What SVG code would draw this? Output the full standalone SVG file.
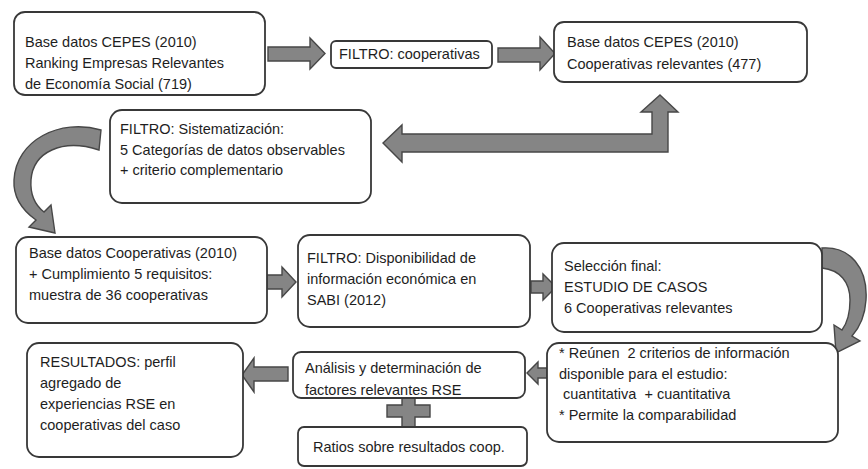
<svg xmlns="http://www.w3.org/2000/svg" width="868" height="469" viewBox="0 0 868 469">
<style>
.box{fill:#fff;stroke:#383838;stroke-width:1.8}
.t{font-family:"Liberation Sans",Arial,sans-serif;font-size:14.5px;fill:#1e1e1e;white-space:pre}
.arr{fill:#858585;stroke:#474747;stroke-width:1.4;stroke-linejoin:miter}
</style>
<rect width="868" height="469" fill="#fff"/>
<g id="connectors">
<polygon class="arr" points="268,47 310,47 310,38 325,53.5 310,69 310,61 268,61"/>
<polygon class="arr" points="498,48 540,48 540,37 555,53.5 540,70 540,62 498,62"/>
<polygon class="arr" points="660,95 678,112 668,112 668,152 402,152 402,162 383,143 402,125 402,134 652,134 652,112 641,112"/>
<path class="arr" d="M101 130 C60 118 16 140 14 180 C13 198 22 210 36 220 L29 227 L55 233 L51 205 L44 212 C35 205 30 195 31 180 C33 152 62 138 99 150 Z"/>
<polygon class="arr" points="267,275 282,275 282,267 296,282 282,297 282,289 267,289"/>
<polygon class="arr" points="531,281 543,281 543,274 556,287 543,300 543,293 531,293"/>
<path class="arr" d="M822 248 C850 246 868 268 866 300 C865 316 860 327 852 336 L860 341 L836 353 L834 325 L842 330 C848 322 850 312 850 300 C850 282 840 270 822 268 Z"/>
<polygon class="arr" points="547,368 538,368 538,362 527,373 538,384 538,378 547,378"/>
<polygon class="arr" points="288,367 254,367 254,358 242,375 254,392 254,381 288,381"/>
<polygon class="arr" points="402,398 415,398 415,405 430,405 430,417 415,417 415,427 402,427 402,417 387,417 387,405 402,405"/>
</g>
<g id="n1"><rect class="box" x="14" y="12" width="251" height="83" rx="11"/>
<text class="t" x="25" y="47">Base datos CEPES (2010)</text>
<text class="t" x="25" y="68">Ranking Empresas Relevantes</text>
<text class="t" x="25" y="89">de Economía Social (719)</text></g>
<g id="n2"><rect class="box" x="331" y="41" width="161" height="27" rx="5"/>
<text class="t" x="339" y="59">FILTRO: cooperativas</text></g>
<g id="n3"><rect class="box" x="554" y="22" width="253" height="60" rx="10"/>
<text class="t" x="567" y="47">Base datos CEPES (2010)</text>
<text class="t" x="567" y="69">Cooperativas relevantes (477)</text></g>
<g id="n4"><rect class="box" x="110" y="110" width="261" height="93" rx="12"/>
<text class="t" x="120" y="134">FILTRO: Sistematización:</text>
<text class="t" x="120" y="155">5 Categorías de datos observables</text>
<text class="t" x="120" y="175">+ criterio complementario</text></g>
<g id="n5"><rect class="box" x="16" y="237" width="251" height="86" rx="12"/>
<text class="t" x="29" y="258">Base datos Cooperativas (2010)</text>
<text class="t" x="29" y="279">+ Cumplimiento 5 requisitos:</text>
<text class="t" x="29" y="300">muestra de 36 cooperativas</text></g>
<g id="n6"><rect class="box" x="298" y="235" width="232" height="92" rx="12"/>
<text class="t" x="307" y="263">FILTRO: Disponibilidad de</text>
<text class="t" x="307" y="284">información económica en</text>
<text class="t" x="307" y="305">SABI (2012)</text></g>
<g id="n7"><rect class="box" x="552" y="243" width="270" height="89" rx="12"/>
<text class="t" x="564" y="271">Selección final:</text>
<text class="t" x="564" y="292">ESTUDIO DE CASOS</text>
<text class="t" x="564" y="313">6 Cooperativas relevantes</text></g>
<g id="n8"><rect class="box" x="547" y="343" width="291" height="99" rx="12"/>
<text class="t" x="559" y="358">* Reúnen  2 criterios de información</text>
<text class="t" x="559" y="379">disponible para el estudio:</text>
<text class="t" x="559" y="399"> cuantitativa  + cuantitativa</text>
<text class="t" x="559" y="420">* Permite la comparabilidad</text></g>
<g id="n9"><rect class="box" x="293" y="352" width="232" height="46" rx="8"/>
<text class="t" x="305" y="373">Análisis y determinación de</text>
<text class="t" x="305" y="395">factores relevantes RSE</text></g>
<g id="n10"><rect class="box" x="27" y="343" width="216" height="114" rx="12"/>
<text class="t" x="40" y="367">RESULTADOS: perfil</text>
<text class="t" x="40" y="388">agregado de</text>
<text class="t" x="40" y="409">experiencias RSE en</text>
<text class="t" x="40" y="430">cooperativas del caso</text></g>
<g id="n11"><rect class="box" x="298" y="427" width="229" height="39" rx="6"/>
<text class="t" x="313" y="452">Ratios sobre resultados coop.</text></g>
</svg>
